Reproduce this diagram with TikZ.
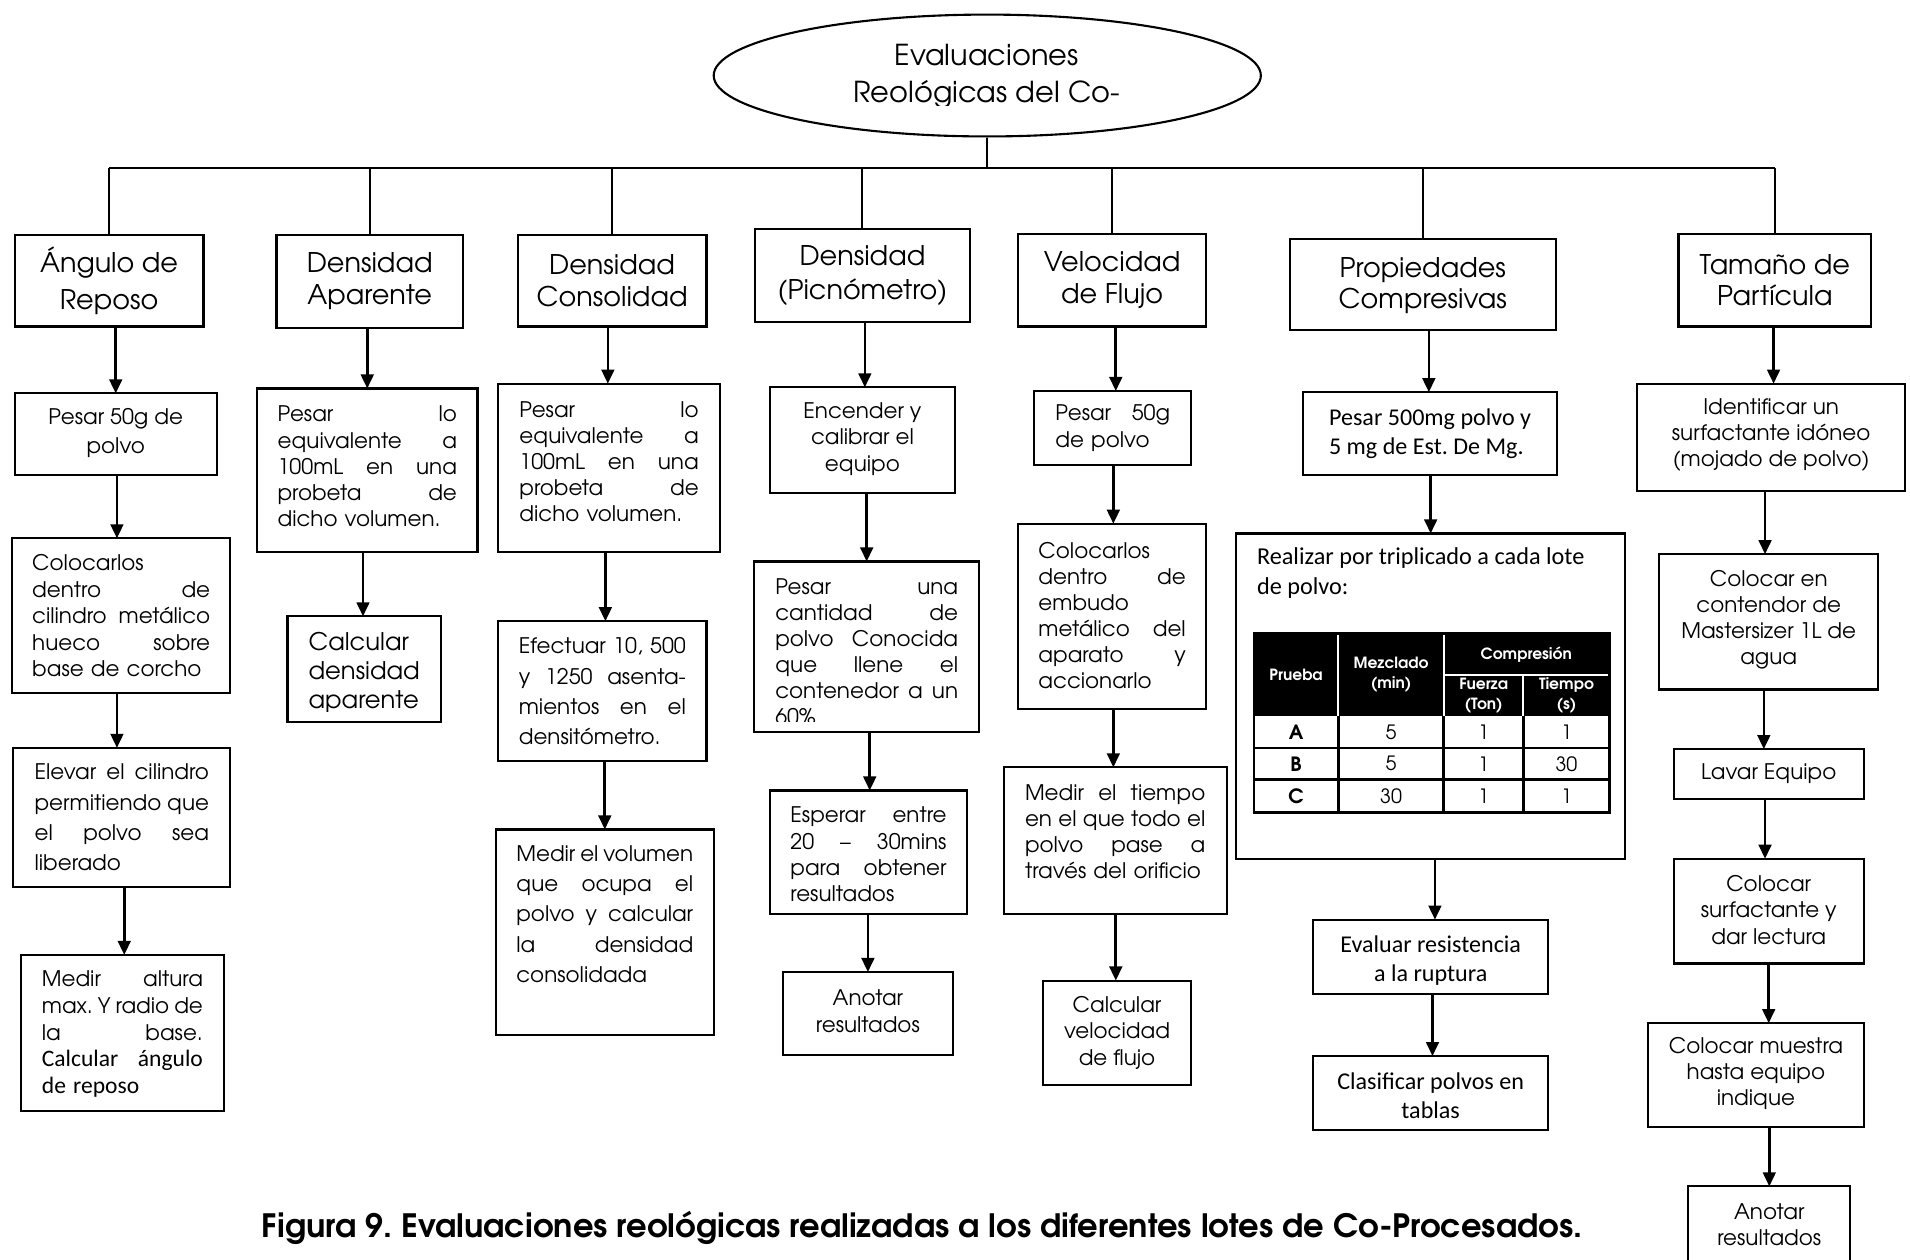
\documentclass[tikz,border=0pt]{standalone}
\usepackage{fontspec}
\setmainfont{TeX Gyre Adventor}
\newfontfamily\calfnt{Carlito}
\usetikzlibrary{arrows.meta,shapes.geometric,calc}
\frenchspacing

\def\ux{0.34659pt}
\def\jw{50pt}
\newcommand\fH{\fontsize{7.7}{9}\selectfont}
\newcommand\fB[1]{\fontsize{6.1}{#1}\selectfont}
\newcommand\fC{\calfnt\fontsize{6.85}{8.3}\selectfont}
\newcommand\jl[1]{{\spaceskip=0pt\xspaceskip=0pt\makebox[\jw][s]{#1}}\\}

\tikzset{
  ln/.style={line width=0.6pt},
  box/.style={draw, line width=0.6pt, inner sep=0pt, outer sep=0pt},
  txt/.style={inner sep=0pt, outer sep=0pt},
  arr/.style={line width=0.75pt, -{Triangle[length=4pt,width=3.6pt]}},
}

% name, x1, y1, x2, y2, text options, dy, text
\newcommand\B[8]{%
  \node[box, minimum width={(#4-#2)*\ux}, minimum height={(#5-#3)*\ux}] (#1) at ({(#2+#4)/2},{(#3+#5)/2}) {};
  \node[txt,#6] (#1t) at ($(#1.center)+(0,#7)$) {#8};}
% from, to, dx
\newcommand\A[3]{\draw[arr] ($(#2.north |- #1.south)+(#3,0)$) -- ($(#2.north)+(#3,0)$);}

\begin{document}
\begin{tikzpicture}[x=0.012181cm,y=-0.012181cm]
\useasboundingbox (0,0) rectangle (1568,1034);

% root
\node[draw, ellipse, line width=0.6pt, inner sep=0pt, minimum width={449*\ux}, minimum height={100*\ux}] (root) at (810.5,62) {};
\begin{scope}
  \clip (586,15) rectangle (1035,86.5);
  \node[txt, align=center, font=\fontsize{8.2}{10.6}\selectfont] (roott) at (810,63) {Evaluaciones\\Reológicas del Co-};
\end{scope}

% headings
\B{h1}{12}{193}{167}{268}{align=center,font=\fontsize{7.7}{10.4}\selectfont}{0}{Ángulo de\\Reposo}
\B{h2}{227}{193}{380}{269}{align=center,font=\fH}{0}{Densidad\\Aparente}
\B{h3}{425}{193}{580}{268}{align=center,font=\fH}{0}{Densidad\\Consolidad}
\B{h4}{620}{188}{796}{264}{align=center,font=\fontsize{7.7}{9.7}\selectfont}{0}{Densidad\\(Picnómetro)}
\B{h5}{836}{192}{990}{268}{align=center,font=\fH}{0}{Velocidad\\de Flujo}
\B{h6}{1059}{196}{1277}{271}{align=center,font=\fH}{1}{Propiedades\\Compresivas}
\B{h7}{1378}{192}{1536}{268}{align=center,font=\fH}{0}{Tamaño de\\Partícula}

% bus
\coordinate (bus) at (809,138);
\draw[ln] (root.south) -- (root.south |- bus);
\draw[ln] (h1.north |- bus) -- (h7.north |- bus);
\foreach \h in {h1,h2,h3,h4,h5,h6,h7} \draw[ln] (\h.north |- bus) -- (\h.north);

% column 1
\B{b11}{12}{323}{178}{390}{align=center,font=\fB{8}}{-1}{Pesar 50g de\\polvo}
\def\jw{50.6pt}
\B{b12}{10}{442}{189}{569}{align=left,text width=50.6pt,font=\fB{7.5}}{0}{Colocarlos\\\jl{dentro de}\jl{cilindro metálico}\jl{hueco sobre}base de corcho}
\def\jw{49.6pt}
\B{b13}{11}{614}{189}{728}{align=left,text width=49.6pt,font=\fB{8.6}}{0}{\jl{Elevar el cilindro}\jl{permitiendo que}\jl{el polvo sea}liberado}
\def\jw{45.8pt}
\B{b14}{17}{784}{184}{912}{align=left,text width=45.8pt,font=\fB{7.6}}{1}{\jl{Medir altura}\jl{max. Y radio de}\jl{la base.}{\calfnt\fontsize{6.7}{7.6}\selectfont\jl{Calcular ángulo}de reposo}}

% column 2
\def\jw{51pt}
\B{b21}{211}{319}{392}{453}{align=left,text width=51pt,font=\fB{7.45}}{-3}{\jl{Pesar lo}\jl{equivalente a}\jl{100mL en una}\jl{probeta de}dicho volumen.}
\node[box, minimum width={126*\ux}, minimum height={87*\ux}] (b22) at (299,549.5) {};
\begin{scope}
  \clip (236,506) rectangle (362,584);
  \node[txt, align=left, font=\fontsize{6.9}{8.2}\selectfont] (b22t) at ($(b22.center)+(0,3)$) {Calcular\\densidad\\aparente};
\end{scope}

% column 3
\def\jw{51pt}
\B{b31}{409}{315}{591}{453}{align=left,text width=51pt,font=\fB{7.45}}{-5}{\jl{Pesar lo}\jl{equivalente a}\jl{100mL en una}\jl{probeta de}dicho volumen.}
\def\jw{47.5pt}
\B{b32}{409}{510}{580}{625}{align=left,text width=47.5pt,font=\fB{8.6}}{0}{\jl{Efectuar 10, 500}\jl{y 1250 asenta-}\jl{mientos en el}densitómetro.}
\def\jw{50.3pt}
\B{b33}{407}{681}{586}{850}{align=left,text width=50.3pt,font=\fB{8.6}}{-15}{\jl{Medir el volumen}\jl{que ocupa el}\jl{polvo y calcular}\jl{la densidad}consolidada}

% column 4
\B{b41}{632}{318}{784}{405}{align=center,font=\fB{7.5}}{-1}{Encender y\\calibrar el\\equipo}
\node[box, minimum width={185*\ux}, minimum height={140*\ux}] (b42) at (711.5,531) {};
\def\jw{52pt}
\begin{scope}
  \clip (619,461) rectangle (804,592);
  \node[txt, align=left, text width=52pt, font=\fB{7.35}] (b42t) at ($(b42.center)+(0,4)$) {\jl{Pesar una}\jl{cantidad de}\jl{polvo Conocida}\jl{que llene el}\jl{contenedor a un}60\%};
\end{scope}
\def\jw{44.4pt}
\B{b43}{632}{649}{794}{750}{align=left,text width=44.4pt,font=\fB{7.5}}{2}{\jl{Esperar entre}\jl{20 – 30mins}\jl{para obtener}resultados}
\B{b44}{643}{798}{782}{866}{align=center,font=\fB{7.6}}{-2}{Anotar\\resultados}

% column 5
\def\jw{32.6pt}
\B{b51}{849}{321}{978}{382}{align=left,text width=32.6pt,font=\fB{7.6}}{0}{\jl{Pesar 50g}de polvo}
\def\jw{41.9pt}
\B{b52}{836}{430}{990}{582}{align=left,text width=41.9pt,font=\fB{7.4}}{-1}{Colocarlos\\\jl{dentro de}embudo\\\jl{metálico del}\jl{aparato y}accionarlo}
\def\jw{51.3pt}
\B{b53}{824}{630}{1007}{750}{align=left,text width=51.3pt,font=\fB{7.4}}{-7}{\jl{Medir el tiempo}\jl{en el que todo el}\jl{polvo pase a}través del orificio}
\B{b54}{856}{805}{978}{891}{align=center,font=\fontsize{6.1}{7.5}\selectfont}{0}{Calcular\\velocidad\\de flujo}

% column 6
\B{b61}{1070}{322}{1278}{390}{align=left,font=\fC}{0}{Pesar 500mg polvo y\\5 mg de Est. De Mg.}
\node[box, minimum width={319*\ux}, minimum height={267*\ux}] (b62) at (1174.5,571.5) {};
\node[txt, anchor=north west, align=left, font=\calfnt\fontsize{6.9}{8.5}\selectfont] (b62t) at ($(b62.north west)+(17,12)$) {Realizar por triplicado a cada lote\\de polvo:};
\B{b63}{1078}{755}{1271}{816}{align=center,font=\fC}{3}{Evaluar resistencia\\a la ruptura}
\B{b64}{1078}{867}{1271}{928}{align=center,font=\fC}{2}{Clasificar polvos en\\tablas}

% table
\fill[black] (1029.5,520) rectangle (1321.4,588);
\draw[white, line width=0.6pt] (1098.5,520) -- (1098.5,588) (1185.2,520) -- (1185.2,588)
  (1185.2,554) -- (1321.4,554) (1250.4,554) -- (1250.4,588);
\draw[line width=0.8pt] (1029.5,520) rectangle (1321.4,667);
\draw[line width=0.8pt] (1029.5,614) -- (1321.4,614) (1029.5,640) -- (1321.4,640)
  (1098.5,588) -- (1098.5,667) (1185.2,588) -- (1185.2,667) (1250.4,588) -- (1250.4,667);
\begin{scope}[every node/.style={txt, text=white, align=center, font=\bfseries\fontsize{4.4}{5.7}\selectfont}]
  \node (tp) at (1064,554) {Prueba};
  \node (tm) at (1142,554) {Mezclado\\(min)};
  \node (tc) at (1253,537.5) {Compresión};
  \node (tf) at (1218,571) {Fuerza\\(Ton)};
  \node (tt) at (1286,571) {Tiempo\\(s)};
\end{scope}
\begin{scope}[every node/.style={txt, font=\fontsize{5.6}{6}\selectfont}]
  \node[font=\bfseries\fontsize{5.6}{6}\selectfont] (ra) at (1064,601) {A};
  \node[font=\bfseries\fontsize{5.6}{6}\selectfont] (rb) at (1064,627) {B};
  \node[font=\bfseries\fontsize{5.6}{6}\selectfont] (rc) at (1064,653.5) {C};
  \node (a1) at (1142,601) {5};   \node (a2) at (1218,601) {1}; \node (a3) at (1286,601) {1};
  \node (b1) at (1142,627) {5};   \node (b2) at (1218,627) {1}; \node (b3) at (1286,627) {30};
  \node (c1) at (1142,653.5) {30}; \node (c2) at (1218,653.5) {1}; \node (c3) at (1286,653.5) {1};
\end{scope}

% column 7
\B{b71}{1344}{315}{1564}{403}{align=center,font=\fB{7.4}}{-2}{Identificar un\\surfactante idóneo\\(mojado de polvo)}
\B{b72}{1362}{455}{1542}{566}{align=center,font=\fB{7.4}}{-2}{Colocar en\\contendor de\\Mastersizer 1L de\\agua}
\B{b73}{1374}{615}{1530}{656}{align=center,font=\fB{7.4}}{0}{Lavar Equipo}
\B{b74}{1374}{705}{1530}{791}{align=center,font=\fB{7.6}}{-1}{Colocar\\surfactante y\\dar lectura}
\B{b75}{1353}{840}{1530}{925}{align=center,font=\fB{7.4}}{-1}{Colocar muestra\\hasta equipo\\indique}
\B{b76}{1386}{974}{1519}{1045}{align=center,font=\fB{7.4}}{-4}{Anotar\\resultados}

% arrows
\A{h1}{b11}{0} \A{b11}{b12}{-3.5} \A{b12}{b13}{-4} \A{b13}{b14}{1.5}
\A{h2}{b21}{0} \A{b21}{b22}{-1}
\A{h3}{b31}{-1} \A{b31}{b32}{2.5} \A{b32}{b33}{0}
\A{h4}{b41}{2} \A{b41}{b42}{0} \A{b42}{b43}{1} \A{b43}{b44}{0}
\A{h5}{b51}{2.5} \A{b51}{b52}{1} \A{b52}{b53}{-1.5} \A{b53}{b54}{-1}
\A{h6}{b61}{-1} \A{b61}{b62}{0} \A{b62}{b63}{3.5} \A{b63}{b64}{1.5}
\A{h7}{b71}{2} \A{b71}{b72}{-3} \A{b72}{b73}{-4} \A{b73}{b74}{-3} \A{b74}{b75}{10.5} \A{b75}{b76}{0}

% caption
\node[txt, font=\bfseries\fontsize{9.15}{10}\selectfont] (cap) at (757,1008) {Figura 9. Evaluaciones reológicas realizadas a los diferentes lotes de Co-Procesados.};
\end{tikzpicture}
\end{document}
